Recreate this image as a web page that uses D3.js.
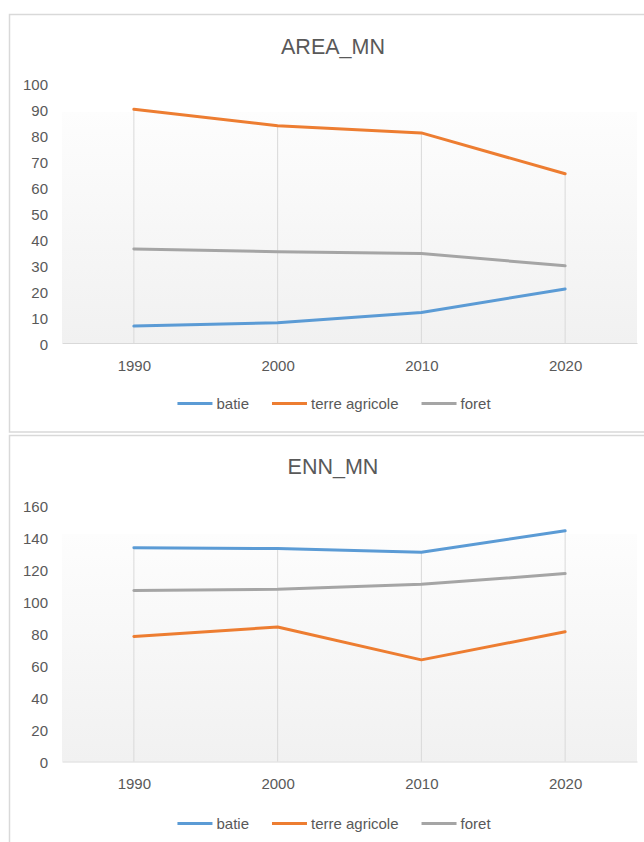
<!DOCTYPE html>
<html>
<head>
<meta charset="utf-8">
<script src="https://cdn.jsdelivr.net/npm/d3@7"></script>
<style>
  body { margin: 0; background: #fff; }
  text { font-family: "Liberation Sans", Arial, sans-serif; fill: #595959; }
</style>
</head>
<body>
<div id="charts"></div>
<script>
// data
var years = ["1990", "2000", "2010", "2020"];
var seriesNames = ["batie", "terre agricole", "foret"];
var seriesColors = ["#5B9BD5", "#ED7D31", "#A5A5A5"];

var areaBatie = [6.5, 7.8, 11.7, 20.8];
var areaTerre = [89.9, 83.6, 80.8, 65.1];
var areaForet = [36.2, 35.1, 34.4, 29.7];
var areaTicks = [0, 10, 20, 30, 40, 50, 60, 70, 80, 90, 100];

var ennBatie = [133.4, 132.8, 130.5, 143.9];
var ennTerre = [78.0, 83.9, 63.4, 80.9];
var ennForet = [106.7, 107.4, 110.5, 117.2];
var ennTicks = [0, 20, 40, 60, 80, 100, 120, 140, 160];

var w = 644;
var h = 842;

var svg = d3.select("#charts")
  .append("svg")
  .attr("width", w)
  .attr("height", h)

var defs = svg.append("defs");
var grad = defs.append("linearGradient")
  .attr("id", "plotFill")
  .attr("x1", 0).attr("y1", 0)
  .attr("x2", 0).attr("y2", 1)
grad.append("stop").attr("offset", "0%").attr("stop-color", "#fdfdfd")
grad.append("stop").attr("offset", "100%").attr("stop-color", "#f1f1f1")

function drawChart(cfg) {
  var g = svg.append("g");

  // chart box
  g.append("rect")
    .attr("x", 9.5)
    .attr("y", cfg.boxTop)
    .attr("width", 660)
    .attr("height", cfg.boxBottom - cfg.boxTop)
    .attr("fill", "#fff")
    .attr("stroke", "#d9d9d9")
    .attr("stroke-width", 1.5)

  var x = d3.scalePoint()
    .domain(years)
    .range([62, 637])
    .padding(0.5)

  var y = d3.scaleLinear()
    .domain([0, d3.max(cfg.ticks)])
    .range([cfg.base, cfg.top])

  // plot area shading
  g.append("rect")
    .attr("x", 62)
    .attr("y", cfg.top + 29)
    .attr("width", 575)
    .attr("height", cfg.base - cfg.top - 29)
    .attr("fill", "url(#plotFill)")

  // title
  g.append("text")
    .attr("x", 333)
    .attr("y", cfg.titleY)
    .attr("text-anchor", "middle")
    .style("font-size", "21.5px")
    .text(cfg.title)

  // drop lines from the highest point of each year
  g.selectAll(".drop")
    .data(years)
    .enter()
    .append("line")
    .attr("class", "drop")
    .attr("x1", function(d) { return x(d); })
    .attr("x2", function(d) { return x(d); })
    .attr("y1", function(d, i) { return y(d3.max(cfg.series, function(s) { return s[i]; })); })
    .attr("y2", y(0))
    .attr("stroke", "#d9d9d9")
    .attr("stroke-width", 1)

  var yAxis = g.append("g")
    .attr("transform", "translate(62,0)")
    .call(d3.axisLeft(y).tickValues(cfg.ticks).tickSize(0).tickPadding(14))
  yAxis.select(".domain").remove()
  yAxis.selectAll("text")
    .attr("dy", "0.42em")
    .style("font-size", "15px")
    .style("font-family", "Liberation Sans, Arial, sans-serif")
    .attr("fill", "#595959")

  var xAxis = g.append("g")
    .attr("transform", "translate(0," + cfg.base + ")")
    .call(d3.axisBottom(x).tickSize(0).tickPadding(17))
  xAxis.select(".domain").attr("stroke", "#d9d9d9")
  xAxis.selectAll("text")
    .style("font-size", "15px")
    .style("font-family", "Liberation Sans, Arial, sans-serif")
    .attr("fill", "#595959")

  var line = d3.line()
    .x(function(d, i) { return x(years[i]); })
    .y(function(d) { return y(d); })

  g.selectAll(".series")
    .data(cfg.series)
    .enter()
    .append("path")
    .attr("class", "series")
    .attr("d", line)
    .attr("fill", "none")
    .attr("stroke", function(d, i) { return seriesColors[i]; })
    .attr("stroke-width", 3)
    .attr("stroke-linejoin", "round")
    .attr("stroke-linecap", "round")

  // legend, centred under the chart
  var leg = g.append("g");
  var cx = 0;
  seriesNames.forEach(function(name, i) {
    leg.append("line")
      .attr("x1", cx).attr("x2", cx + 35)
      .attr("y1", cfg.legendY).attr("y2", cfg.legendY)
      .attr("stroke", seriesColors[i])
      .attr("stroke-width", 3)
    var t = leg.append("text")
      .attr("x", cx + 39)
      .attr("y", cfg.legendY + 5)
      .style("font-size", "15px")
      .text(name)
    cx += 39 + t.node().getComputedTextLength() + 23;
  });
  var legW = cx - 23;
  leg.attr("transform", "translate(" + (334 - legW / 2) + ",0)")
}

drawChart({
  title: "AREA_MN",
  series: [areaBatie, areaTerre, areaForet],
  ticks: areaTicks,
  boxTop: 14.5,
  boxBottom: 432,
  titleY: 54,
  top: 83,
  base: 343,
  legendY: 403.5
});

drawChart({
  title: "ENN_MN",
  series: [ennBatie, ennTerre, ennForet],
  ticks: ennTicks,
  boxTop: 435.5,
  boxBottom: 860,
  titleY: 474,
  top: 505,
  base: 761.5,
  legendY: 823.5
});
</script>
</body>
</html>
